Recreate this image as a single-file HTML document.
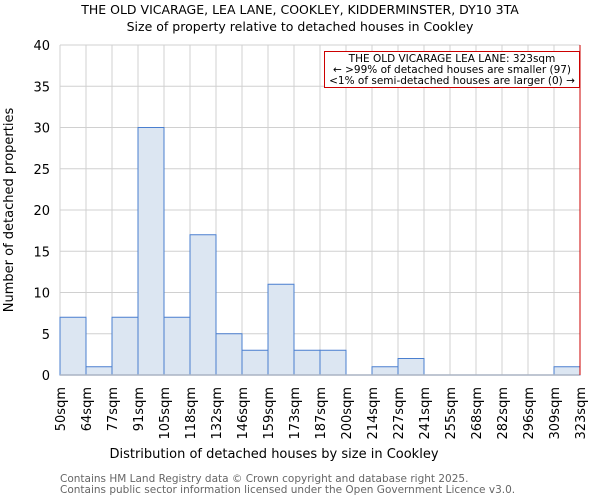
<!DOCTYPE html>
<html><head><meta charset="utf-8"><style>
body{margin:0;background:#fff;font-family:"DejaVu Sans","Liberation Sans",sans-serif;}
svg text{font-family:"DejaVu Sans","Liberation Sans",sans-serif;}
</style></head><body>
<svg id="chart" width="600" height="500" xmlns="http://www.w3.org/2000/svg">
<text x="300" y="14" text-anchor="middle" font-size="12.5">THE OLD VICARAGE, LEA LANE, COOKLEY, KIDDERMINSTER, DY10 3TA</text>
<text x="300" y="31" text-anchor="middle" font-size="12.5">Size of property relative to detached houses in Cookley</text>
<g id="grid"></g><g id="bars"></g><g id="axes"></g>
<text x="274" y="458" text-anchor="middle" font-size="13">Distribution of detached houses by size in Cookley</text>
<text transform="translate(13,210) rotate(-90)" text-anchor="middle" font-size="13">Number of detached properties</text>
<line x1="580" y1="45" x2="580" y2="375" stroke="#cc0000" stroke-width="1"/>
<g>
<rect x="324.5" y="51.5" width="255" height="36" fill="#fff" stroke="#cc0000" stroke-width="1"/>
<text x="452" y="62" text-anchor="middle" font-size="10.5">THE OLD VICARAGE LEA LANE: 323sqm</text>
<text x="452" y="73" text-anchor="middle" font-size="10.5">← &gt;99% of detached houses are smaller (97)</text>
<text x="452" y="84" text-anchor="middle" font-size="10.5">&lt;1% of semi-detached houses are larger (0) →</text>
</g>
<text x="60" y="482" font-size="10.5" fill="#666">Contains HM Land Registry data © Crown copyright and database right 2025.</text>
<text x="60" y="493" font-size="10.5" fill="#666">Contains public sector information licensed under the Open Government Licence v3.0.</text>
</svg>
<script>
const categories=["50sqm","64sqm","77sqm","91sqm","105sqm","118sqm","132sqm","146sqm","159sqm","173sqm","187sqm","200sqm","214sqm","227sqm","241sqm","255sqm","268sqm","282sqm","296sqm","309sqm","323sqm"];
const counts=[7,1,7,30,7,17,5,3,11,3,3,0,1,2,0,0,0,0,0,1];
const yTicks=[0,5,10,15,20,25,30,35,40];
const NS="http://www.w3.org/2000/svg";
const X0=60,X1=580,Y0=375,Y1=45,YMAX=40;
const bw=(X1-X0)/counts.length;
const xs=i=>X0+i*bw;
const ys=v=>Y0-(v/YMAX)*(Y0-Y1);
function mk(t,a,p){const e=document.createElementNS(NS,t);for(const k in a)e.setAttribute(k,a[k]);p.appendChild(e);return e;}
const grid=document.getElementById('grid'),bars=document.getElementById('bars'),axes=document.getElementById('axes');
yTicks.forEach(v=>{
 const l=mk('line',{x1:X0,x2:X1,y1:ys(v),y2:ys(v),stroke:'#d0d0d0','stroke-width':1},grid);
 
 
 const t=mk('text',{x:X0-10,y:ys(v)+5,'text-anchor':'end','font-size':13},axes);
 t.textContent=v;
 
 
});
categories.forEach((c,i)=>{
 const x=xs(i);
 const l=mk('line',{x1:x,x2:x,y1:Y1,y2:Y0,stroke:'#d0d0d0','stroke-width':1},grid);
 
 
 const t=mk('text',{transform:`translate(${x+5},${Y0+12}) rotate(-90)`,'text-anchor':'end','font-size':13},axes);
 t.textContent=c;
 
 
});
counts.forEach((v,i)=>{
 const r=mk('rect',{x:xs(i),y:ys(v),width:bw,height:Y0-ys(v),fill:'#dce6f2',stroke:'#4a7fcf','stroke-width':1},bars);
 
 
});
const ax=mk('line',{x1:X0,x2:X1,y1:Y0,y2:Y0,stroke:'#aab4c4','stroke-width':1.5},axes);


</script>
</body></html>
